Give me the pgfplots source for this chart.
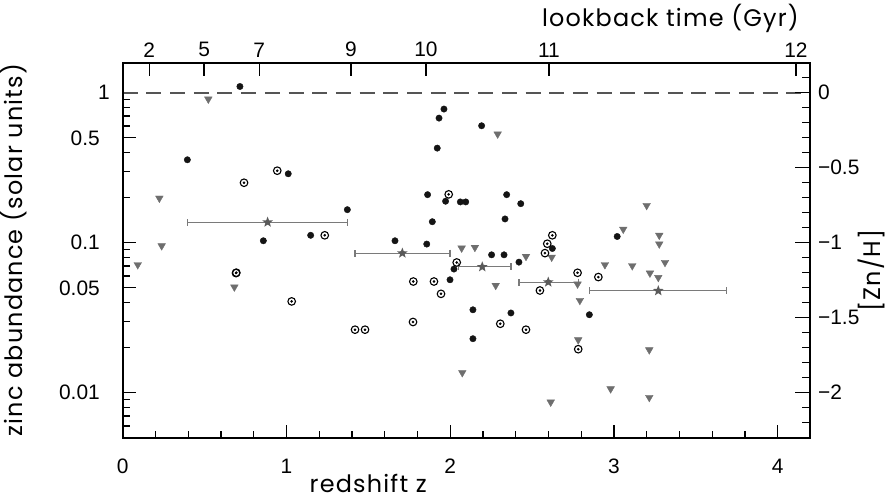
\documentclass[border=0pt]{standalone}
\usepackage{fontspec}
\setmainfont{Poppins}[LetterSpace=5]
\newfontfamily\numfont{Liberation Sans}
\usepackage{pgfplots}
\usepackage{pgfplotstable}
\pgfplotsset{compat=1.18}

\definecolor{tric}{HTML}{6E6E6E}
\definecolor{starc}{HTML}{5A5A5A}
\definecolor{barc}{HTML}{7A7A7A}
\definecolor{dashc}{HTML}{555555}

\pgfdeclareplotmark{fstar}{%
  \pgfpathmoveto{\pgfpointpolar{90}{\pgfplotmarksize}}%
  \pgfpathlineto{\pgfpointpolar{126}{0.42\pgfplotmarksize}}%
  \pgfpathlineto{\pgfpointpolar{162}{\pgfplotmarksize}}%
  \pgfpathlineto{\pgfpointpolar{198}{0.42\pgfplotmarksize}}%
  \pgfpathlineto{\pgfpointpolar{234}{\pgfplotmarksize}}%
  \pgfpathlineto{\pgfpointpolar{270}{0.42\pgfplotmarksize}}%
  \pgfpathlineto{\pgfpointpolar{306}{\pgfplotmarksize}}%
  \pgfpathlineto{\pgfpointpolar{342}{0.42\pgfplotmarksize}}%
  \pgfpathlineto{\pgfpointpolar{18}{\pgfplotmarksize}}%
  \pgfpathlineto{\pgfpointpolar{54}{0.42\pgfplotmarksize}}%
  \pgfpathclose
  \pgfusepathqfill
}

% detections (filled circles)
\pgfplotstableread{
z v
0.716 1.10
0.395 0.357
1.011 0.288
1.372 0.166
1.148 0.112
0.859 0.103
1.962 0.778
1.932 0.677
2.192 0.602
1.921 0.427
1.862 0.209
1.972 0.189
2.062 0.187
2.095 0.187
2.345 0.209
2.431 0.182
1.891 0.138
2.335 0.144
2.624 0.0915
1.663 0.103
1.857 0.0979
2.253 0.083
2.329 0.083
2.023 0.0667
2.420 0.0742
1.999 0.0566
2.139 0.0357
2.371 0.0340
2.139 0.0229
2.850 0.0331
3.020 0.110
}\dettable

% open circles with dot
\pgfplotstableread{
z v
0.944 0.302
0.741 0.251
1.234 0.112
0.692 0.0627
0.694 0.0631
1.032 0.0406
1.991 0.210
2.624 0.112
2.593 0.0984
2.040 0.0738
2.579 0.0852
1.775 0.0551
1.901 0.0551
1.944 0.0456
2.548 0.048
2.778 0.063
1.773 0.0296
2.306 0.0288
2.463 0.0263
1.419 0.0263
1.480 0.0263
2.782 0.0195
2.905 0.059
}\odottable

% upper limits (triangles)
\pgfplotstableread{
z v
0.523 0.906
0.224 0.198
0.238 0.0953
0.092 0.0713
0.682 0.0506
2.290 0.530
2.070 0.092
2.151 0.093
2.463 0.081
2.620 0.080
2.278 0.0519
2.778 0.053
2.074 0.0136
2.614 0.00865
2.782 0.0225
2.792 0.0412
3.277 0.112
3.277 0.098
2.945 0.0713
3.112 0.0702
3.312 0.0738
3.220 0.0627
3.271 0.0586
3.216 0.0193
2.980 0.0106
3.216 0.00929
3.200 0.177
3.057 0.123
}\limtable

\begin{document}
\begin{tikzpicture}
\pgfplotsset{
  common/.style={
    width=687.75bp, height=375bp, scale only axis,
    xmin=0, xmax=4.2,
    axis line style={line width=2bp},
    every tick/.style={black, line width=1.2bp},
    tick align=inside,
    tick label style={font=\numfont\fontsize{21}{21}\selectfont, inner sep=0pt},
    label style={font=\fontsize{24}{24}\selectfont, inner sep=0pt},
  }
}
\begin{axis}[common, name=ax,
  ymode=log, ymin=0.0050119, ymax=1.58489,
  xtick pos=left, ytick pos=left,
  major tick length=13bp, minor tick length=7bp,
  xtick={0,1,2,3,4}, xticklabels={0,1,2,3,4},
  minor xtick={0.2,0.4,0.6,0.8,1.2,1.4,1.6,1.8,2.2,2.4,2.6,2.8,3.2,3.4,3.6,3.8},
  ytick={0.01,0.05,0.1,0.5,1},
  yticklabels={0.01,0.05,0.1,0.5,1\kern-10bp},
  minor ytick={0.006,0.007,0.008,0.009,0.02,0.03,0.04,0.06,0.07,0.08,0.09,0.2,0.3,0.4,0.6,0.7,0.8,0.9},
  xticklabel style={anchor=north, yshift=-21bp},
  yticklabel style={anchor=east, xshift=-22.7bp},
  xlabel={redshift z},
  xlabel style={at={(axis description cs:0.357,-0.1475)}, anchor=base},
  ylabel={zinc abundance (solar units)},
  ylabel style={at={(axis description cs:-0.1464,0.5)}, anchor=base},
]
\addplot[dashc, line width=1.8bp, dash pattern=on 15bp off 8.7bp] coordinates {(0,1) (4.2,1)};
\addplot[only marks, mark=triangle*, mark size=4.4bp, color=tric, mark options={rotate=180}] table[x=z,y=v] {\limtable};
\addplot[only marks, mark=o, mark size=3.8bp, black, mark options={line width=1.1bp}] table[x=z,y=v] {\odottable};
\addplot[only marks, mark=*, mark size=1.1bp, black] table[x=z,y=v] {\odottable};
\addplot[only marks, mark=*, mark size=3.2bp, black!92] table[x=z,y=v] {\dettable};
\addplot[only marks, mark=fstar, mark size=5.6bp, color=starc,
  error bars/.cd, x dir=both, x explicit,
  error bar style={barc, line width=1.2bp},
  error mark options={barc, line width=1.2bp, mark size=3.4bp, rotate=90}]
coordinates {
  (0.885,0.137) += (0.487,0) -= (0.488,0)
  (1.708,0.0852) += (0.291,0) -= (0.289,0)
  (2.196,0.069) += (0.175,0) -= (0.146,0)
  (2.599,0.0546) += (0.183,0) -= (0.179,0)
  (3.271,0.0478) += (0.418,0) -= (0.421,0)
};
\end{axis}
\begin{axis}[common,
  ymin=-2.30103, ymax=0.2,
  xtick=\empty,
  ytick pos=right, yticklabel pos=right,
  major tick length=15bp, minor tick length=8bp,
  ytick={-2,-1.5,-1,-0.5,0},
  yticklabels={−2,−1.5,−1,−0.5,0},
  minor ytick={-2.2,-2.1,-1.9,-1.8,-1.7,-1.6,-1.4,-1.3,-1.2,-1.1,-0.9,-0.8,-0.7,-0.6,-0.4,-0.3,-0.2,-0.1,0.1},
  yticklabel style={anchor=west, xshift=7.5bp},
]
\end{axis}
\begin{axis}[common,
  ymin=0, ymax=1, ytick=\empty,
  xtick pos=right, xticklabel pos=right,
  major tick length=13bp,
  xtick={0.162,0.497,0.834,1.394,1.852,2.603,4.112},
  xticklabels={2,5,7,9,10,11,12},
  xticklabel style={anchor=south, yshift=5.3bp},
  xlabel={lookback time (Gyr)},
  xlabel style={at={(axis description cs:0.7965,1.096)}, anchor=base},
]
\end{axis}
\node[rotate=90, anchor=base, inner sep=0pt, font=\fontsize{24}{24}\selectfont]
  at ([xshift=70bp,yshift=167bp]ax.south east) {[Zn/H]};
\pgfresetboundingbox
\path[use as bounding box] ([xshift=-122.7bp,yshift=-64.3bp]ax.south west) rectangle ([xshift=77.6bp,yshift=62.7bp]ax.north east);
\end{tikzpicture}
\end{document}
